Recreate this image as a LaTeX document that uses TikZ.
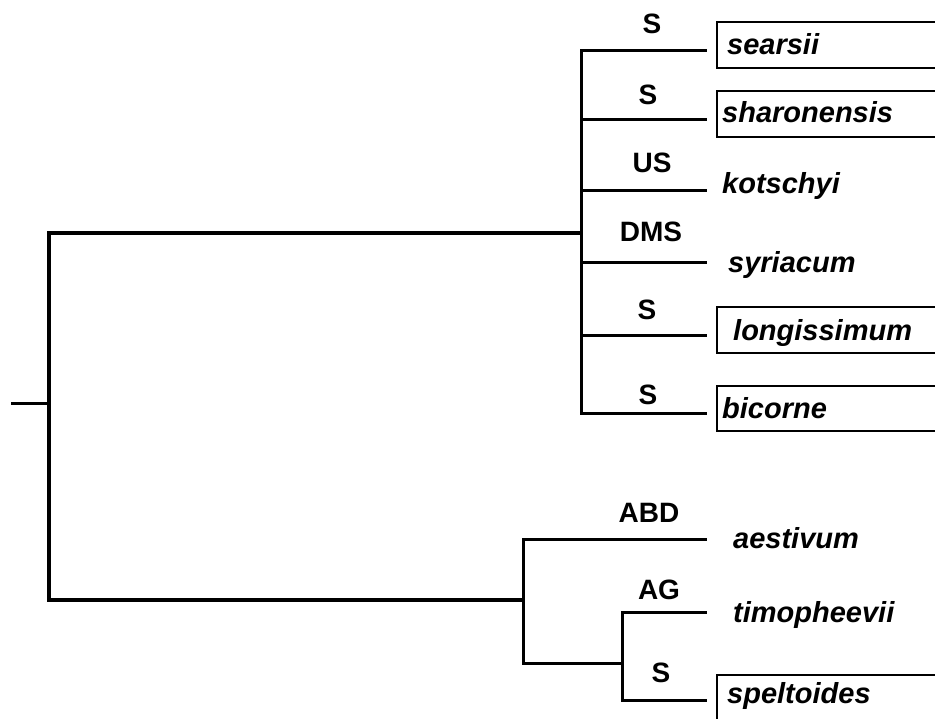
\documentclass[tikz,border=0pt]{standalone}
\usepackage{fontspec}
\setmainfont{Liberation Sans}
\begin{document}
\begin{tikzpicture}[x=1pt,y=-1pt,
  branch/.style={line width=3pt,line join=miter,line cap=rect},
  genome/.style={font=\fontsize{28}{31}\selectfont\bfseries,anchor=center,inner sep=0pt},
  taxon/.style={font=\fontsize{29}{33}\selectfont\bfseries\itshape,anchor=base west,inner sep=0pt},
  framebox/.style={line width=1.8pt}]
\useasboundingbox (0,0) rectangle (935,718);

% internal vertices of the tree
\coordinate (stub) at (12,403);
\coordinate (root) at (49,403);
\coordinate (A) at (581,233);
\coordinate (B) at (523,600);
\coordinate (C) at (622,663);

% branch tips
\coordinate (t1) at (705,50);
\coordinate (t2) at (705,119);
\coordinate (t3) at (705,190);
\coordinate (t4) at (705,262);
\coordinate (t5) at (705,335);
\coordinate (t6) at (705,413);
\coordinate (t7) at (705,539);
\coordinate (t8) at (705,612);
\coordinate (t9) at (705,700);

% branches
\draw[branch] (stub) -- (root);
\draw[branch,line width=3.5pt] (root) |- (A);
\draw[branch,line width=3.5pt] (root) |- (B);
\foreach \t in {t1,t2,t3,t4,t5,t6}
  \draw[branch] (A) |- (\t);
\draw[branch] (B) |- (t7);
\draw[branch] (B) |- (C);
\draw[branch] (C) |- (t8);
\draw[branch] (C) |- (t9);

% genome labels
\node[genome] (g1) at (652,24) {S};
\node[genome] (g2) at (648,95) {S};
\node[genome] (g3) at (652,163) {US};
\node[genome] (g4) at (651,232) {DMS};
\node[genome] (g5) at (647,310) {S};
\node[genome] (g6) at (648,395) {S};
\node[genome] (g7) at (649,513) {ABD};
\node[genome] (g8) at (659,590) {AG};
\node[genome] (g9) at (661,673) {S};

% species names
\node[taxon] (searsii) at (727,54) {searsii};
\node[taxon] (sharon) at (722,122) {sharonensis};
\node[taxon] (kotschyi) at (722,193) {kotschyi};
\node[taxon] (syriacum) at (728,272) {syriacum};
\node[taxon] (longis) at (733,340) {longissimum};
\node[taxon] (bicorne) at (722,418) {bicorne};
\node[taxon] (aestivum) at (733,548) {aestivum};
\node[taxon] (timoph) at (733,622) {timopheevii};
\node[taxon] (spelt) at (727,703) {speltoides};

% frames around the S-genome species, open to the right
\draw[framebox] (935,22) -| (717,68) -- (935,68);
\draw[framebox] (935,91) -| (717,137) -- (935,137);
\draw[framebox] (935,307) -| (717,353) -- (935,353);
\draw[framebox] (935,386) -| (717,431) -- (935,431);
\draw[framebox] (935,675) -| (717,725);
\end{tikzpicture}
\end{document}
